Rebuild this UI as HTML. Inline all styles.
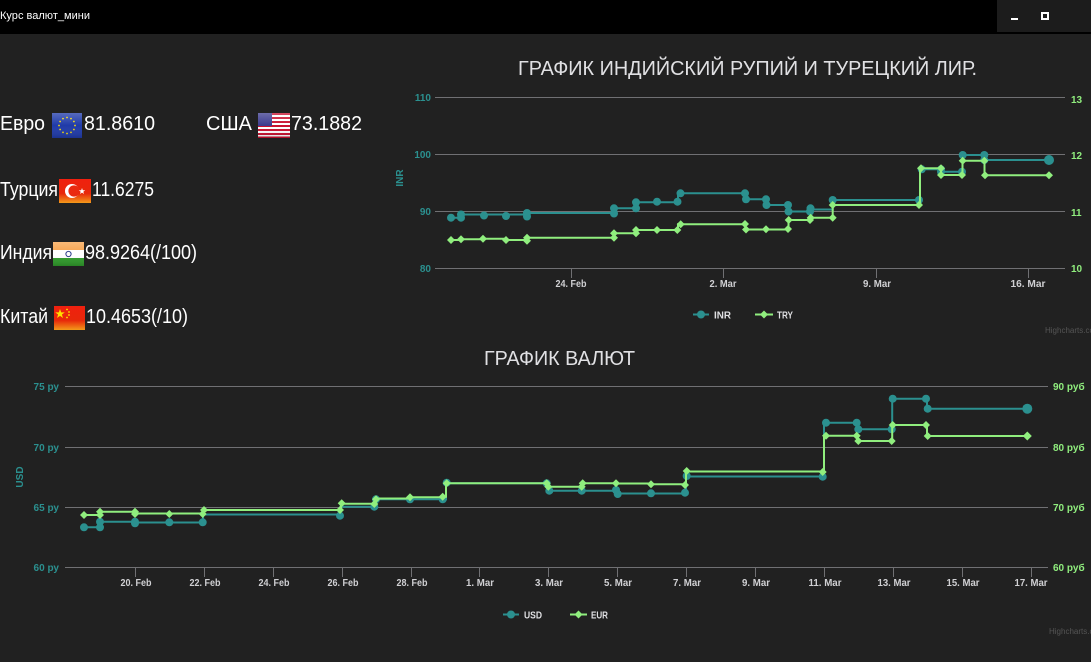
<!DOCTYPE html>
<html><head><meta charset="utf-8"><style>
html,body{margin:0;padding:0;background:#212121;width:1091px;height:662px;overflow:hidden}
svg{display:block}
.lt{font-family:"Liberation Sans",sans-serif;font-size:20px;fill:#fff}
.ax{font-family:"Liberation Sans Narrow","Liberation Sans",sans-serif;font-size:10px;font-weight:bold}
.ttl{font-family:"Liberation Sans",sans-serif;font-size:20px;fill:#e0e0e3}
</style></head><body>
<svg width="1091" height="662" viewBox="0 0 1091 662" xmlns="http://www.w3.org/2000/svg">
<defs>
<linearGradient id="gl" x1="0" y1="0" x2="0" y2="1"><stop offset="0" stop-color="#fff" stop-opacity=".25"/><stop offset=".5" stop-color="#fff" stop-opacity="0"/><stop offset="1" stop-color="#000" stop-opacity=".15"/></linearGradient>
<linearGradient id="rd" x1="0" y1="0" x2="0" y2="1"><stop offset="0" stop-color="#f0200f"/><stop offset=".6" stop-color="#e8280a"/><stop offset="1" stop-color="#f39a1a"/></linearGradient>
</defs>
<rect width="1091" height="662" fill="#212121"/>
<!-- title bar -->
<rect x="0" y="0" width="1091" height="34" fill="#000"/>
<rect x="997" y="0" width="94" height="32" fill="#1c1c1c"/>
<rect x="1011" y="18" width="7" height="2" fill="#fff"/>
<rect x="1042" y="13" width="6" height="6" fill="none" stroke="#fff" stroke-width="2"/>
<text x="0" y="19" font-family="Liberation Sans,sans-serif" font-size="11" fill="#fff" textLength="90" lengthAdjust="spacingAndGlyphs">Курс валют_мини</text>

<!-- left panel -->
<text class="lt" x="0" y="130" textLength="45" lengthAdjust="spacingAndGlyphs">Евро</text>
<rect x="52" y="113" width="30" height="25" fill="#1f3aa8"/>
<g fill="#f5d90a">
<circle cx="67" cy="117.5" r="0.9"/><circle cx="71" cy="118.6" r="0.9"/><circle cx="73.9" cy="121.5" r="0.9"/><circle cx="75" cy="125.5" r="0.9"/><circle cx="73.9" cy="129.5" r="0.9"/><circle cx="71" cy="132.4" r="0.9"/><circle cx="67" cy="133.5" r="0.9"/><circle cx="63" cy="132.4" r="0.9"/><circle cx="60.1" cy="129.5" r="0.9"/><circle cx="59" cy="125.5" r="0.9"/><circle cx="60.1" cy="121.5" r="0.9"/><circle cx="63" cy="118.6" r="0.9"/>
</g>
<rect x="52" y="113" width="30" height="25" fill="url(#gl)"/>
<text class="lt" x="84" y="130" textLength="71" lengthAdjust="spacingAndGlyphs">81.8610</text>
<text class="lt" x="206" y="130" textLength="46" lengthAdjust="spacingAndGlyphs">США</text>
<g>
<rect x="258" y="113" width="32" height="25" fill="#fff"/>
<rect x="258" y="113" width="32" height="2" fill="#c8102e"/><rect x="258" y="117" width="32" height="2" fill="#c8102e"/><rect x="258" y="121" width="32" height="2" fill="#c8102e"/><rect x="258" y="125" width="32" height="2" fill="#c8102e"/><rect x="258" y="129" width="32" height="2" fill="#c8102e"/><rect x="258" y="133" width="32" height="2" fill="#c8102e"/><rect x="258" y="136.5" width="32" height="1.5" fill="#c8102e"/>
<rect x="258" y="113" width="14" height="13" fill="#3c3b8e"/>
<rect x="258" y="113" width="32" height="25" fill="url(#gl)"/>
</g>
<text class="lt" x="291" y="130" textLength="71" lengthAdjust="spacingAndGlyphs">73.1882</text>

<text class="lt" x="0" y="196" textLength="58" lengthAdjust="spacingAndGlyphs">Турция</text>
<rect x="59" y="179" width="32" height="24" fill="url(#rd)"/>
<circle cx="72" cy="191" r="7" fill="#fff"/><circle cx="74" cy="191" r="5.6" fill="#ea2a10"/>
<polygon points="82,188 82.8,190.3 85.2,190.3 83.3,191.7 84,194 82,192.6 80,194 80.7,191.7 78.8,190.3 81.2,190.3" fill="#fff"/>
<text class="lt" x="92" y="196" textLength="62" lengthAdjust="spacingAndGlyphs">11.6275</text>

<text class="lt" x="0" y="259" textLength="52" lengthAdjust="spacingAndGlyphs">Индия</text>
<rect x="53" y="242" width="31" height="8" fill="#f7a14a"/><rect x="53" y="250" width="31" height="8" fill="#fff"/><rect x="53" y="258" width="31" height="8" fill="#2f9a2a"/>
<circle cx="68.5" cy="254" r="2.6" fill="none" stroke="#2a3a8a" stroke-width="1"/>
<rect x="53" y="242" width="31" height="24" fill="url(#gl)"/>
<text class="lt" x="85" y="259" textLength="112" lengthAdjust="spacingAndGlyphs">98.9264(/100)</text>

<text class="lt" x="0" y="323" textLength="48" lengthAdjust="spacingAndGlyphs">Китай</text>
<rect x="54" y="306" width="31" height="24" fill="url(#rd)"/>
<polygon points="60,309 61.2,312.4 64.8,312.4 61.9,314.5 63,318 60,315.9 57,318 58.1,314.5 55.2,312.4 58.8,312.4" fill="#ffde00"/>
<circle cx="67" cy="309.5" r="0.9" fill="#ffde00"/><circle cx="69" cy="312" r="0.9" fill="#ffde00"/><circle cx="69" cy="315" r="0.9" fill="#ffde00"/><circle cx="67" cy="317.5" r="0.9" fill="#ffde00"/>
<text class="lt" x="86" y="323" textLength="102" lengthAdjust="spacingAndGlyphs">10.4653(/10)</text>

<!-- ================= TOP CHART ================= -->
<text class="ttl" x="518" y="75" textLength="459" lengthAdjust="spacingAndGlyphs">ГРАФИК ИНДИЙСКИЙ РУПИЙ И ТУРЕЦКИЙ ЛИР.</text>
<g stroke="#707073" stroke-width="1">
<line x1="435" y1="97.5" x2="1065" y2="97.5"/>
<line x1="435" y1="154.5" x2="1065" y2="154.5"/>
<line x1="435" y1="211.5" x2="1065" y2="211.5"/>
<line x1="435" y1="268.5" x2="1065" y2="268.5"/>
<line x1="571.5" y1="268" x2="571.5" y2="278"/>
<line x1="723.5" y1="268" x2="723.5" y2="278"/>
<line x1="876.5" y1="268" x2="876.5" y2="278"/>
<line x1="1028.5" y1="268" x2="1028.5" y2="278"/>
</g>
<g class="ax" fill="#2b908f" text-anchor="end" font-weight="normal">
<text x="431" y="101">110</text><text x="431" y="158">100</text><text x="431" y="215">90</text><text x="431" y="272">80</text>
</g>
<text class="ax" fill="#2b908f" transform="translate(403,178) rotate(-90)" text-anchor="middle" font-weight="normal">INR</text>
<g class="ax" fill="#90ee7e">
<text x="1071" y="103">13</text><text x="1071" y="159">12</text><text x="1071" y="216">11</text><text x="1071" y="272">10</text>
</g>
<g class="ax" fill="#d0d0d3" text-anchor="middle">
<text x="571" y="287" textLength="31" lengthAdjust="spacingAndGlyphs">24. Feb</text>
<text x="723" y="287" textLength="27" lengthAdjust="spacingAndGlyphs">2. Mar</text>
<text x="877" y="287" textLength="28" lengthAdjust="spacingAndGlyphs">9. Mar</text>
<text x="1028" y="287" textLength="35" lengthAdjust="spacingAndGlyphs">16. Mar</text>
</g>
<!-- INR -->
<path fill="none" stroke="#2b908f" stroke-width="2" d="M451,217.7 H461 V214.5 H527 V213 H614 V208.3 H636 V202.3 H678 V193.3 H745.5 V199.3 H766.5 V205 H788.5 V211.5 H810.5 V209.5 H832.7 V200 H920 V169.3 H941 V171.7 H962.5 V155 H984.3 V160 H1049"/>
<g fill="#2b908f">
<circle cx="451" cy="217.7" r="4"/><circle cx="461" cy="217.7" r="4"/><circle cx="461" cy="214.5" r="4"/><circle cx="484" cy="215.5" r="4"/><circle cx="506" cy="216" r="4"/><circle cx="527" cy="216.5" r="4"/><circle cx="527" cy="213" r="4"/><circle cx="614" cy="213.5" r="4"/><circle cx="614" cy="208.3" r="4"/><circle cx="636" cy="208.3" r="4"/><circle cx="636" cy="202.3" r="4"/><circle cx="657" cy="201.7" r="4"/><circle cx="677.5" cy="201.7" r="4"/><circle cx="680.5" cy="193.3" r="4"/><circle cx="745" cy="193.3" r="4"/><circle cx="746" cy="199.3" r="4"/><circle cx="766" cy="199.3" r="4"/><circle cx="766.5" cy="205" r="4"/><circle cx="788" cy="205" r="4"/><circle cx="788.5" cy="211.5" r="4"/><circle cx="810" cy="211.5" r="4"/><circle cx="810.5" cy="208.3" r="4"/><circle cx="832.7" cy="200" r="4"/><circle cx="919" cy="200" r="4"/><circle cx="921.7" cy="169.3" r="4"/><circle cx="941" cy="169.3" r="4"/><circle cx="941" cy="171.7" r="4"/><circle cx="962" cy="171.7" r="4"/><circle cx="962.7" cy="155" r="4"/><circle cx="984.3" cy="155" r="4"/><circle cx="984.3" cy="160" r="4"/><circle cx="1049" cy="160" r="5"/>
</g>
<!-- TRY -->
<path fill="none" stroke="#90ee7e" stroke-width="2" d="M451,240 H461 V239.3 H483 V238.7 H506 V240 H527 V237.7 H614 V233.3 H636 V230 H678 V224.3 H745.5 V229.5 H788.5 V220 H810.5 V217.7 H832.7 V205 H920 V168.3 H941 V175 H962.5 V160.7 H984.5 V175.3 H1049"/>
<g fill="#90ee7e">
<path d="M451,236 l4,4 -4,4 -4,-4z M461,235.3 l4,4 -4,4 -4,-4z M483,234.7 l4,4 -4,4 -4,-4z M506,236 l4,4 -4,4 -4,-4z M527,236.7 l4,4 -4,4 -4,-4z M527,233.7 l4,4 -4,4 -4,-4z M614,233.7 l4,4 -4,4 -4,-4z M614,229.3 l4,4 -4,4 -4,-4z M636,229.3 l4,4 -4,4 -4,-4z M636,226 l4,4 -4,4 -4,-4z M657,226 l4,4 -4,4 -4,-4z M677.3,226 l4,4 -4,4 -4,-4z M680.7,220.3 l4,4 -4,4 -4,-4z M745,220 l4,4 -4,4 -4,-4z M746,225.5 l4,4 -4,4 -4,-4z M766,225.3 l4,4 -4,4 -4,-4z M788,225 l4,4 -4,4 -4,-4z M788.7,216 l4,4 -4,4 -4,-4z M810,216 l4,4 -4,4 -4,-4z M810.7,213.7 l4,4 -4,4 -4,-4z M832.7,213.7 l4,4 -4,4 -4,-4z M832.7,201 l4,4 -4,4 -4,-4z M919,201 l4,4 -4,4 -4,-4z M921,164.3 l4,4 -4,4 -4,-4z M941,164.3 l4,4 -4,4 -4,-4z M941,171 l4,4 -4,4 -4,-4z M962,171 l4,4 -4,4 -4,-4z M962.7,156.7 l4,4 -4,4 -4,-4z M984.3,156.7 l4,4 -4,4 -4,-4z M985,171.3 l4,4 -4,4 -4,-4z M1049,171.3 l4,4 -4,4 -4,-4z"/>
</g>
<!-- top legend -->
<line x1="693" y1="314.5" x2="709" y2="314.5" stroke="#2b908f" stroke-width="2"/><circle cx="701" cy="314.5" r="4" fill="#2b908f"/>
<text class="ax" x="714" y="318.5" fill="#e0e0e3" textLength="17" lengthAdjust="spacingAndGlyphs">INR</text>
<line x1="755" y1="314.5" x2="773" y2="314.5" stroke="#90ee7e" stroke-width="2"/><path d="M764,310.5 l4,4 -4,4 -4,-4z" fill="#90ee7e"/>
<text class="ax" x="777" y="318.5" fill="#e0e0e3" textLength="16" lengthAdjust="spacingAndGlyphs">TRY</text>
<text x="1045" y="333" font-family="Liberation Sans,sans-serif" font-size="8" fill="#555">Highcharts.com</text>

<!-- ================= BOTTOM CHART ================= -->
<text class="ttl" x="484" y="365" textLength="151" lengthAdjust="spacingAndGlyphs">ГРАФИК ВАЛЮТ</text>
<g stroke="#707073" stroke-width="1">
<line x1="65" y1="386.5" x2="1048" y2="386.5"/>
<line x1="65" y1="447.5" x2="1048" y2="447.5"/>
<line x1="65" y1="507.5" x2="1048" y2="507.5"/>
<line x1="65" y1="567.5" x2="1048" y2="567.5"/>
<line x1="135.5" y1="567" x2="135.5" y2="577"/><line x1="204.5" y1="567" x2="204.5" y2="577"/><line x1="273.5" y1="567" x2="273.5" y2="577"/><line x1="342.5" y1="567" x2="342.5" y2="577"/><line x1="411.5" y1="567" x2="411.5" y2="577"/><line x1="479.5" y1="567" x2="479.5" y2="577"/><line x1="548.5" y1="567" x2="548.5" y2="577"/><line x1="617.5" y1="567" x2="617.5" y2="577"/><line x1="686.5" y1="567" x2="686.5" y2="577"/><line x1="755.5" y1="567" x2="755.5" y2="577"/><line x1="824.5" y1="567" x2="824.5" y2="577"/><line x1="893.5" y1="567" x2="893.5" y2="577"/><line x1="962.5" y1="567" x2="962.5" y2="577"/><line x1="1031.5" y1="567" x2="1031.5" y2="577"/>
</g>
<g class="ax" fill="#2b908f" text-anchor="end" font-weight="normal" font-size="11">
<text x="59" y="390">75 ру</text><text x="59" y="451">70 ру</text><text x="59" y="511">65 ру</text><text x="59" y="571">60 ру</text>
</g>
<text class="ax" fill="#2b908f" transform="translate(23,477) rotate(-90)" text-anchor="middle" font-weight="normal">USD</text>
<g class="ax" fill="#90ee7e" font-weight="normal" font-size="11">
<text x="1053" y="390">90 руб</text><text x="1053" y="451">80 руб</text><text x="1053" y="511">70 руб</text><text x="1053" y="571">60 руб</text>
</g>
<g class="ax" fill="#d0d0d3" text-anchor="middle">
<text x="136" y="586" textLength="31" lengthAdjust="spacingAndGlyphs">20. Feb</text>
<text x="205" y="586" textLength="31" lengthAdjust="spacingAndGlyphs">22. Feb</text>
<text x="274" y="586" textLength="31" lengthAdjust="spacingAndGlyphs">24. Feb</text>
<text x="343" y="586" textLength="31" lengthAdjust="spacingAndGlyphs">26. Feb</text>
<text x="412" y="586" textLength="31" lengthAdjust="spacingAndGlyphs">28. Feb</text>
<text x="480" y="586" textLength="28" lengthAdjust="spacingAndGlyphs">1. Mar</text>
<text x="549" y="586" textLength="28" lengthAdjust="spacingAndGlyphs">3. Mar</text>
<text x="618" y="586" textLength="28" lengthAdjust="spacingAndGlyphs">5. Mar</text>
<text x="687" y="586" textLength="28" lengthAdjust="spacingAndGlyphs">7. Mar</text>
<text x="756" y="586" textLength="28" lengthAdjust="spacingAndGlyphs">9. Mar</text>
<text x="825" y="586" textLength="33" lengthAdjust="spacingAndGlyphs">11. Mar</text>
<text x="894" y="586" textLength="33" lengthAdjust="spacingAndGlyphs">13. Mar</text>
<text x="963" y="586" textLength="33" lengthAdjust="spacingAndGlyphs">15. Mar</text>
<text x="1031" y="586" textLength="33" lengthAdjust="spacingAndGlyphs">17. Mar</text>
</g>
<!-- USD -->
<path fill="none" stroke="#2b908f" stroke-width="2" d="M84,527.3 H100 V521.7 H135 V522.5 H203 V514.5 H340.5 V506.7 H375 V499.3 H446 V483.3 H548 V490.7 H616.5 V493.5 H686 V476.5 H824 V422.7 H857.5 V429.3 H892.2 V398.7 H927 V408.7 H1027.3"/>
<g fill="#2b908f">
<circle cx="84" cy="527.3" r="4"/><circle cx="100" cy="527.3" r="4"/><circle cx="100" cy="521.7" r="4"/><circle cx="135" cy="521.7" r="4"/><circle cx="135" cy="523.3" r="4"/><circle cx="169.3" cy="522.3" r="4"/><circle cx="202.7" cy="522.3" r="4"/><circle cx="340" cy="515.7" r="4"/><circle cx="374.3" cy="506.7" r="4"/><circle cx="376" cy="499.3" r="4"/><circle cx="410" cy="499.3" r="4"/><circle cx="442.7" cy="499.3" r="4"/><circle cx="446.7" cy="482.7" r="4"/><circle cx="546.7" cy="483.3" r="4"/><circle cx="549.3" cy="490.7" r="4"/><circle cx="581.7" cy="490.7" r="4"/><circle cx="616" cy="490" r="4"/><circle cx="617.7" cy="494" r="4"/><circle cx="651" cy="493.3" r="4"/><circle cx="685" cy="492.7" r="4"/><circle cx="686.7" cy="476" r="4"/><circle cx="822.7" cy="476.7" r="4"/><circle cx="826" cy="422.7" r="4"/><circle cx="856.7" cy="422.7" r="4"/><circle cx="858.3" cy="429.3" r="4"/><circle cx="891.7" cy="429.3" r="4"/><circle cx="892.7" cy="398.7" r="4"/><circle cx="926" cy="398.7" r="4"/><circle cx="927.7" cy="408.7" r="4"/><circle cx="1027.3" cy="408.7" r="5"/>
</g>
<!-- EUR -->
<path fill="none" stroke="#90ee7e" stroke-width="2" d="M84,515 H100 V511.7 H135 V513.5 H203 V510 H341 V503.8 H375 V498.5 H410 V497.3 H443 V496.7 H446 V483.3 H548 V486.7 H582 V483.3 H616 V483.5 H651 V484.3 H686 V471.5 H824 V435.7 H857.5 V441 H892.2 V425 H927 V436 H1027.3"/>
<g fill="#90ee7e">
<path d="M84,511 l4,4 -4,4 -4,-4z M100,511 l4,4 -4,4 -4,-4z M100,507.7 l4,4 -4,4 -4,-4z M135,507.7 l4,4 -4,4 -4,-4z M135,510 l4,4 -4,4 -4,-4z M169.3,510 l4,4 -4,4 -4,-4z M202.7,510 l4,4 -4,4 -4,-4z M204,506 l4,4 -4,4 -4,-4z M340,506 l4,4 -4,4 -4,-4z M341.7,499.3 l4,4 -4,4 -4,-4z M374.3,500 l4,4 -4,4 -4,-4z M376,495.3 l4,4 -4,4 -4,-4z M410,493.3 l4,4 -4,4 -4,-4z M442.7,492.7 l4,4 -4,4 -4,-4z M446.7,479.3 l4,4 -4,4 -4,-4z M546.7,479.3 l4,4 -4,4 -4,-4z M548.3,482.7 l4,4 -4,4 -4,-4z M581.7,482.7 l4,4 -4,4 -4,-4z M582.7,479.3 l4,4 -4,4 -4,-4z M616,479.3 l4,4 -4,4 -4,-4z M651,480.3 l4,4 -4,4 -4,-4z M685,481 l4,4 -4,4 -4,-4z M686.7,467 l4,4 -4,4 -4,-4z M822.7,468 l4,4 -4,4 -4,-4z M826,431.7 l4,4 -4,4 -4,-4z M856.7,431.7 l4,4 -4,4 -4,-4z M858.3,437 l4,4 -4,4 -4,-4z M891.7,437 l4,4 -4,4 -4,-4z M892.7,421 l4,4 -4,4 -4,-4z M926,421 l4,4 -4,4 -4,-4z M927.7,432 l4,4 -4,4 -4,-4z M1027.3,431.5 l4.5,4.5 -4.5,4.5 -4.5,-4.5z"/>
</g>
<!-- bottom legend -->
<line x1="503" y1="614.5" x2="519" y2="614.5" stroke="#2b908f" stroke-width="2"/><circle cx="511" cy="614.5" r="4" fill="#2b908f"/>
<text class="ax" x="524" y="618.5" fill="#e0e0e3" textLength="18" lengthAdjust="spacingAndGlyphs">USD</text>
<line x1="570" y1="614.5" x2="587" y2="614.5" stroke="#90ee7e" stroke-width="2"/><path d="M578.5,610.5 l4,4 -4,4 -4,-4z" fill="#90ee7e"/>
<text class="ax" x="591" y="618.5" fill="#e0e0e3" textLength="17" lengthAdjust="spacingAndGlyphs">EUR</text>
<text x="1049" y="634" font-family="Liberation Sans,sans-serif" font-size="8" fill="#555">Highcharts.com</text>
</svg>
</body></html>
